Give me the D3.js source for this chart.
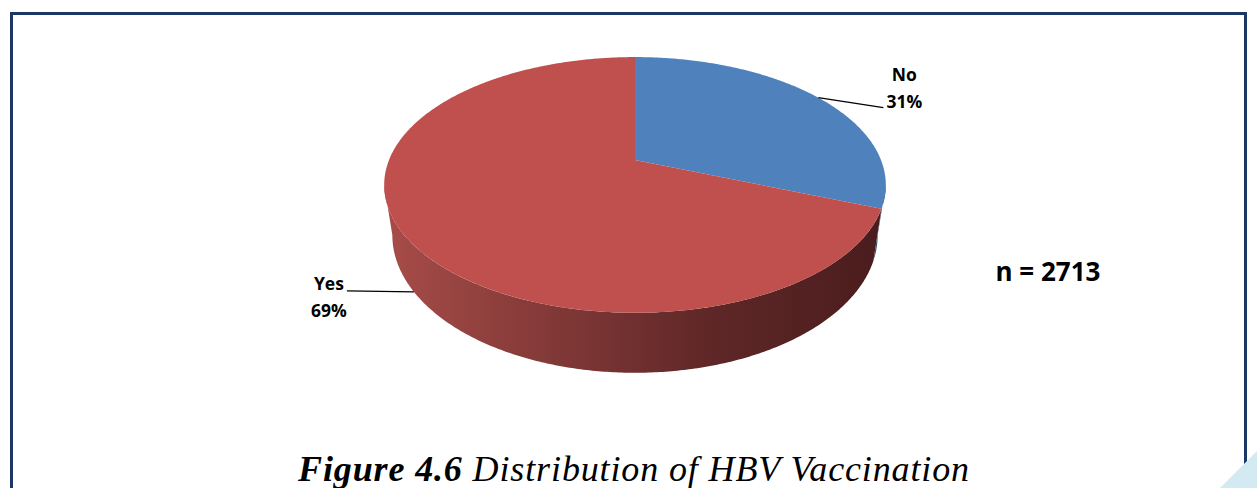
<!DOCTYPE html>
<html>
<head>
<meta charset="utf-8">
<script src="https://cdn.jsdelivr.net/npm/d3@7"></script>
<style>
  body { margin: 0; background: #fff; }
  svg { display: block; }
</style>
</head>
<body>
<div id="chart"></div>
<script>
// values
const categories = ["No", "Yes"];
const percents = [31, 69];
const sampleSize = 2713;
const figNumber = "Figure 4.6";
const figTitle = "Distribution of HBV Vaccination";

const W = 1257, H = 488;
const topColor = {No: "#4f81bd", Yes: "#c0504d"};

const svg = d3.select("#chart").append("svg")
  .attr("width", W).attr("height", H);

// frame + corner decoration
svg.append("path")
  .attr("d", `M11.5,${H} V13.5 H1245.5 V${H}`)
  .attr("fill", "none").attr("stroke", "#1b3766").attr("stroke-width", 3);
svg.append("path")
  .attr("d", `M1220,${H} L${W},451 L${W},${H} Z`)
  .attr("fill", "#d3eaf2");

// side gradients
const defs = svg.append("defs");
const gRed = defs.append("linearGradient").attr("id", "sideRed")
  .attr("gradientUnits", "userSpaceOnUse")
  .attr("x1", 384).attr("x2", 886).attr("y1", 0).attr("y2", 0);
[[0, "#a84c49"], [0.3, "#853b39"], [0.65, "#5f2727"], [1, "#4a1c1d"]]
  .forEach(s => gRed.append("stop").attr("offset", s[0]).attr("stop-color", s[1]));

// perspective projection of the pie disc
const cx = 635, cy = 160, a = 246, a2 = 238, b = 123, k = 0.195, depth = 48.3;
function proj(t, bottom) {
  const u = Math.sin(t), v = -Math.cos(t), w = 1 - k * v;
  const x = cx + (bottom ? a2 : a) * u / w;
  const y = cy + b * v / w + (bottom ? depth / w : 0);
  return [x, y];
}
function arcPts(t0, t1, bottom) {
  const n = Math.max(2, Math.ceil(Math.abs(t1 - t0) / 0.01));
  return d3.range(n + 1).map(i => proj(t0 + (t1 - t0) * i / n, bottom));
}
const line = d3.line();

const arcs = d3.pie().sort(null).value(d => d)(percents);
arcs.forEach((d, i) => d.cat = categories[i]);

// visible front of the cylinder
const tR = Math.acos(-k), tL = 2 * Math.PI - tR;
const sideG = svg.append("g");
arcs.forEach(d => {
  const t0 = Math.max(d.startAngle, tR), t1 = Math.min(d.endAngle, tL);
  if (t1 <= t0) return;
  const pts = arcPts(t0, t1, false).concat(arcPts(t1, t0, true));
  sideG.append("path")
    .attr("d", line(pts) + "Z")
    .attr("fill", d.cat === "Yes" ? "url(#sideRed)" : "#2c4d78");
});

// top faces
svg.append("g").selectAll("path")
  .data(arcs)
  .join("path")
    .attr("d", d => line([[cx, cy]].concat(arcPts(d.startAngle, d.endAngle, false))) + "Z")
    .attr("fill", d => topColor[d.cat]);

// labels with leaders
const labFont = "'Open Sans', 'Liberation Sans', sans-serif";
arcs.forEach(d => {
  const mid = (d.startAngle + d.endAngle) / 2;
  const onFront = Math.cos(mid) < 0;
  const p = proj(mid, onFront);
  const right = Math.sin(mid) > 0;
  const end = right ? [p[0] + 65, p[1] + 10] : [p[0] - 67, p[1] - 1];
  svg.append("path")
    .attr("d", line([p, end]))
    .attr("stroke", "#000").attr("stroke-width", 1.3).attr("fill", "none");
  const tx = right ? end[0] + 21 : end[0] - 18;
  const t = svg.append("text")
    .attr("font-family", labFont).attr("font-weight", 700)
    .attr("font-size", 17.5).attr("text-anchor", "middle").attr("fill", "#000");
  const y1 = right ? end[1] - 27 : end[1] - 1;
  t.append("tspan").attr("x", tx).attr("y", y1).text(d.cat);
  t.append("tspan").attr("x", tx).attr("y", y1 + 27).text(d.data + "%");
});

svg.append("text")
  .attr("x", 1048).attr("y", 281)
  .attr("text-anchor", "middle")
  .attr("font-family", labFont).attr("font-weight", 700).attr("font-size", 26)
  .text("n = " + sampleSize);

// caption, fitted to the reference width
const capWidth = 672;
const cap = svg.append("text")
  .attr("x", 634).attr("y", 481)
  .attr("text-anchor", "middle")
  .attr("font-family", "'Liberation Serif', 'DejaVu Serif', serif")
  .attr("font-style", "italic").attr("font-size", 32).attr("fill", "#000");
cap.append("tspan").attr("font-weight", 700).text(figNumber);
cap.append("tspan").text(" " + figTitle);
let capW = cap.node().getComputedTextLength();
cap.attr("font-size", Math.min(36, 32 * capWidth / capW));
capW = cap.node().getComputedTextLength();
const nChars = (figNumber + " " + figTitle).length;
if (capW < capWidth) cap.attr("letter-spacing", (capWidth - capW) / nChars);
</script>
</body>
</html>
